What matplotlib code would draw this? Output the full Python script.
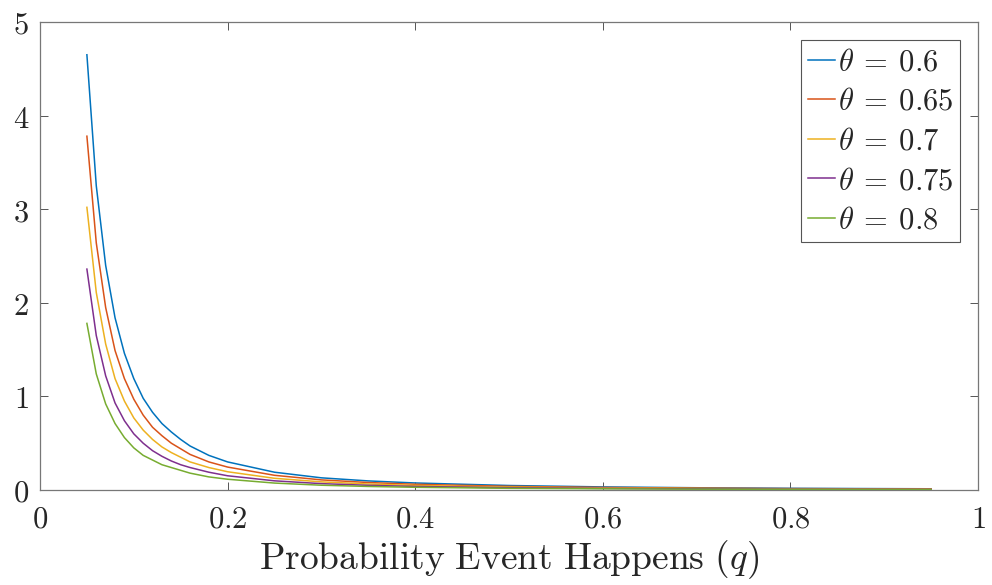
import matplotlib
matplotlib.use("Agg")
import matplotlib.pyplot as plt

plt.rcParams["mathtext.fontset"] = "cm"
plt.rcParams["font.family"] = ["DejaVu Serif"]

# probability of the event
q = [0.05, 0.06, 0.07, 0.08, 0.09, 0.10, 0.11, 0.12, 0.13, 0.14, 0.15,
     0.16, 0.18, 0.20, 0.25, 0.30, 0.35, 0.40, 0.50, 0.60, 0.70, 0.80, 0.95]

theta_labels = ["0.6", "0.65", "0.7", "0.75", "0.8"]

y_060 = [4.65, 3.25, 2.40, 1.84, 1.46, 1.19, 0.98, 0.83, 0.71, 0.62, 0.54,
         0.47, 0.37, 0.30, 0.19, 0.13, 0.097, 0.075, 0.048, 0.033, 0.024,
         0.018, 0.013]
y_065 = [3.78, 2.64, 1.95, 1.49, 1.19, 0.97, 0.80, 0.67, 0.58, 0.50, 0.44,
         0.38, 0.30, 0.245, 0.157, 0.108, 0.080, 0.061, 0.039, 0.027, 0.020,
         0.015, 0.011]
y_070 = [3.02, 2.11, 1.56, 1.19, 0.95, 0.77, 0.64, 0.54, 0.46, 0.40, 0.35,
         0.30, 0.24, 0.195, 0.125, 0.087, 0.064, 0.049, 0.031, 0.022, 0.016,
         0.012, 0.009]
y_075 = [2.36, 1.65, 1.22, 0.93, 0.74, 0.60, 0.50, 0.42, 0.36, 0.31, 0.27,
         0.24, 0.19, 0.152, 0.098, 0.068, 0.050, 0.038, 0.024, 0.017, 0.012,
         0.009, 0.007]
y_080 = [1.78, 1.24, 0.92, 0.71, 0.56, 0.45, 0.37, 0.32, 0.27, 0.24, 0.21,
         0.18, 0.14, 0.115, 0.074, 0.051, 0.038, 0.029, 0.018, 0.013, 0.009,
         0.007, 0.005]

series = [y_060, y_065, y_070, y_075, y_080]
colors = ["#0072BD", "#D95319", "#EDB120", "#7E2F8E", "#77AC30"]

xticks = [0, 0.2, 0.4, 0.6, 0.8, 1]
xticklabels = ["0", "0.2", "0.4", "0.6", "0.8", "1"]
yticks = [0, 1, 2, 3, 4, 5]
yticklabels = ["0", "1", "2", "3", "4", "5"]

fig = plt.figure(figsize=(9.92, 5.85), dpi=100)
ax = fig.add_axes([40 / 992, 1 - 490 / 585, 938 / 992, 468 / 585])

for ys, c, lab in zip(series, colors, theta_labels):
    ax.plot(q, ys, color=c, lw=1.1, label=r"$\theta\:=\:" + lab + "$")

ax.set_xlim(0, 1)
ax.set_ylim(0, 5)
ax.set_xticks(xticks)
ax.set_xticklabels(["$" + t + "$" for t in xticklabels])
ax.set_yticks(yticks)
ax.set_yticklabels(["$" + t + "$" for t in yticklabels])
ax.tick_params(direction="in", length=6, width=0.7, color="#555555",
               labelsize=22, top=True, right=True, labelcolor="#262626")
ax.tick_params(axis="x", pad=10)
ax.tick_params(axis="y", pad=8)
for s in ax.spines.values():
    s.set_color("#777777")
    s.set_linewidth(0.9)

ax.set_xlabel(r"$\mathrm{Probability\ Event\ Happens}\ (q)$", fontsize=27,
              color="#262626", labelpad=2)

leg = ax.legend(loc="upper right", fontsize=22, handlelength=0.9,
                handletextpad=0.1, borderaxespad=0.6, borderpad=0.2,
                labelspacing=0.28, fancybox=False, framealpha=1)
leg.get_frame().set_edgecolor("#555555")
leg.get_frame().set_linewidth(0.8)
for t in leg.get_texts():
    t.set_color("#262626")

fig.savefig("out.png", dpi=100)
